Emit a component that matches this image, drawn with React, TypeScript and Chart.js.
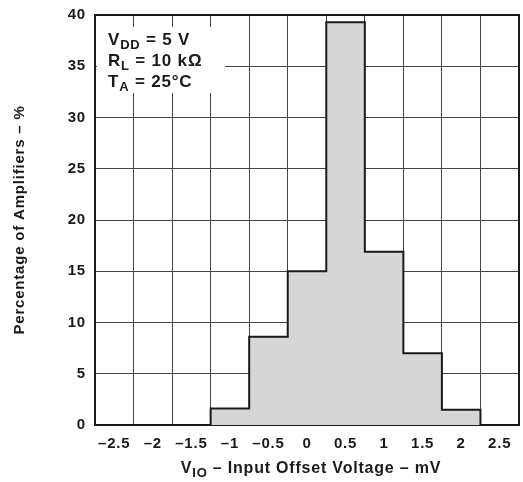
import React, { useEffect, useRef } from 'react';
import { Chart, registerables } from 'chart.js';

Chart.register(...registerables);

// ---- data ----
const binStarts = [-1.25, -0.75, -0.25, 0.25, 0.75, 1.25, 1.75];
const binWidth = 0.5;
const percentages = [1.6, 8.6, 15.0, 39.3, 16.9, 7.0, 1.5];
const xTickValues = [-2.5, -2, -1.5, -1, -0.5, 0, 0.5, 1, 1.5, 2, 2.5];
const xGridValues = [-2.75, -2.25, -1.75, -1.25, -0.75, -0.25, 0.25, 0.75, 1.25, 1.75, 2.25, 2.75];
const xMin = -2.75;
const xMax = 2.75;
const yMin = 0;
const yMax = 40;
const yStep = 5;
const conditionLines = [
  ['V', 'DD', ' = 5 V'],
  ['R', 'L', ' = 10 kΩ'],
  ['T', 'A', ' = 25°C'],
];
const xTitleParts = ['V', 'IO', ' – Input Offset Voltage – mV'];
const yTitle = 'Percentage of Amplifiers – %';

const FONT = '"Liberation Sans", Arial, Helvetica, sans-serif';
const INK = '#1a1a1a';

function buildOutline() {
  const pts: { x: number; y: number }[] = [];
  pts.push({ x: binStarts[0], y: 0 });
  for (let i = 0; i < binStarts.length; i++) {
    pts.push({ x: binStarts[i], y: percentages[i] });
    pts.push({ x: binStarts[i] + binWidth, y: percentages[i] });
  }
  pts.push({ x: binStarts[binStarts.length - 1] + binWidth, y: 0 });
  return pts;
}

function fmt(v: number) {
  return v < 0 ? '–' + String(Math.abs(v)) : String(v);
}

function drawSubText(ctx: CanvasRenderingContext2D, parts: string[], x: number, y: number, main: number, sub: number) {
  ctx.font = `bold ${main}px ${FONT}`;
  ctx.fillText(parts[0], x, y);
  let cx = x + ctx.measureText(parts[0]).width;
  ctx.font = `bold ${sub}px ${FONT}`;
  ctx.fillText(parts[1], cx, y + 4);
  cx += ctx.measureText(parts[1]).width;
  ctx.font = `bold ${main}px ${FONT}`;
  ctx.fillText(parts[2], cx, y);
}

function widthSubText(ctx: CanvasRenderingContext2D, parts: string[], main: number, sub: number) {
  ctx.font = `bold ${main}px ${FONT}`;
  let w = ctx.measureText(parts[0]).width + ctx.measureText(parts[2]).width;
  ctx.font = `bold ${sub}px ${FONT}`;
  w += ctx.measureText(parts[1]).width;
  return w;
}

const annotations = {
  id: 'annotations',
  beforeDraw(chart: any) {
    (chart.ctx as any).letterSpacing = '0.8px';
  },
  beforeDatasetsDraw(chart: any) {
    const { ctx, chartArea } = chart;
    ctx.save();
    // white box behind the condition text
    ctx.fillStyle = '#ffffff';
    ctx.fillRect(chartArea.left + 2, chartArea.top + 12, 128, 66);
    ctx.fillStyle = INK;
    ctx.textBaseline = 'alphabetic';
    ctx.textAlign = 'left';
    const x0 = chartArea.left + 13;
    const baselines = [45, 66, 87];
    conditionLines.forEach((parts, i) => {
      drawSubText(ctx, parts, x0, baselines[i], 17, 13);
    });
    ctx.restore();
  },
  afterDraw(chart: any) {
    const { ctx, chartArea } = chart;
    ctx.save();
    ctx.fillStyle = INK;
    ctx.textBaseline = 'alphabetic';
    ctx.textAlign = 'left';
    const w = widthSubText(ctx, xTitleParts, 16, 13);
    const cx = (chartArea.left + chartArea.right) / 2 + 4;
    drawSubText(ctx, xTitleParts, cx - w / 2, 473, 16, 13);
    ctx.restore();
  },
};

export default function App() {
  const ref = useRef<HTMLCanvasElement | null>(null);
  useEffect(() => {
    document.body.style.margin = '0';
    const canvas = ref.current!;
    const chart = new Chart(canvas, {
      type: 'line',
      data: {
        datasets: [
          {
            data: buildOutline(),
            borderColor: INK,
            borderWidth: 2,
            backgroundColor: '#d6d6d6',
            fill: 'origin',
            pointRadius: 0,
            tension: 0,
            xAxisID: 'x',
            yAxisID: 'y',
          },
        ],
      },
      options: {
        responsive: false,
        animation: false,
        layout: { padding: { top: 15, right: 4, left: 0, bottom: 0 } },
        plugins: { legend: { display: false }, tooltip: { enabled: false }, title: { display: false } },
        scales: {
          x: {
            type: 'linear',
            position: 'bottom',
            min: xMin,
            max: xMax,
            afterBuildTicks: (scale: any) => {
              scale.ticks = xTickValues.map((v) => ({ value: v }));
            },
            afterFit: (scale: any) => {
              scale.height = 57;
              scale.paddingLeft = 0;
              scale.paddingRight = 0;
            },
            grid: { display: false, drawTicks: false },
            border: { display: true, color: INK, width: 2 },
            ticks: {
              padding: 10,
              color: INK,
              font: { family: FONT, size: 15, weight: 'bold' },
              callback: (v: any) => fmt(Number(v)),
              maxRotation: 0,
              autoSkip: false,
            },
          },
          xg: {
            type: 'linear',
            position: 'top',
            min: xMin,
            max: xMax,
            afterBuildTicks: (scale: any) => {
              scale.ticks = xGridValues.map((v) => ({ value: v }));
            },
            afterFit: (scale: any) => {
              scale.height = 0;
            },
            grid: {
              display: true,
              drawTicks: false,
              color: (c: any) => (c.tick && (c.tick.value === xMin || c.tick.value === xMax) ? INK : '#444444'),
              lineWidth: (c: any) => (c.tick && (c.tick.value === xMin || c.tick.value === xMax) ? 2 : 1),
            },
            border: { display: true, color: INK, width: 2 },
            ticks: { display: false },
          },
          y: {
            type: 'linear',
            position: 'left',
            min: yMin,
            max: yMax,
            afterFit: (scale: any) => {
              scale.width = 95;
              scale.paddingTop = 0;
              scale.paddingBottom = 0;
            },
            grid: { display: true, drawTicks: false, color: '#444444', lineWidth: 1 },
            border: { display: true, color: INK, width: 2 },
            ticks: {
              stepSize: yStep,
              padding: 9,
              color: INK,
              font: { family: FONT, size: 15, weight: 'bold' },
            },
            title: {
              display: true,
              text: yTitle,
              color: INK,
              font: { family: FONT, size: 15, weight: 'bold' },
              padding: { top: 11, bottom: 0 },
            },
          },
        },
      },
      plugins: [annotations],
    } as any);
    return () => chart.destroy();
  }, []);
  return (
    <div style={{ width: 523, height: 482, background: '#fff' }}>
      <canvas ref={ref} width={523} height={482} style={{ display: 'block' }} />
    </div>
  );
}
